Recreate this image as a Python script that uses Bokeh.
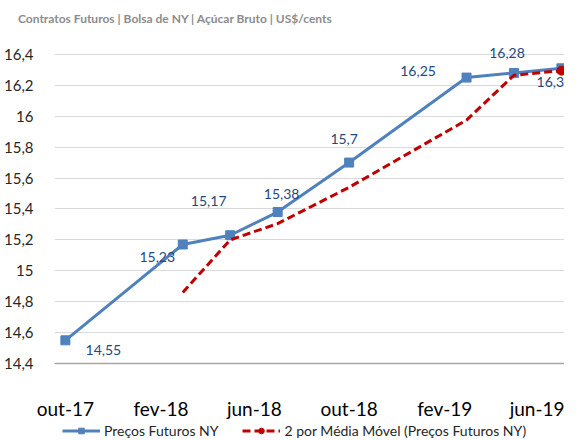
import pandas as pd
from bokeh.plotting import figure
from bokeh.layouts import column
from bokeh.models import (ColumnDataSource, Range1d, FixedTicker, CustomJSTickFormatter,
                          Legend, LegendItem, Div)
from bokeh.core.properties import value
from bokeh.embed import file_html
from bokeh.resources import INLINE

# ---------------- data ----------------
subtitle = "Contratos Futuros | Bolsa de NY | Açúcar Bruto | US$/cents"
series_name = "Preços Futuros NY"
ma_name = "2 por Média Móvel (Preços Futuros NY)"
dates = ["2017-10-01", "2018-03-01", "2018-05-01", "2018-07-01",
         "2018-10-01", "2019-03-01", "2019-05-01", "2019-07-01"]
prices = [14.55, 15.17, 15.23, 15.38, 15.70, 16.25, 16.28, 16.31]
price_labels = ["14,55", "15,23", "15,17", "15,38", "15,7", "16,25", "16,28", "16,31"]
ma_dates = ["2018-03-01", "2018-05-01", "2018-07-01", "2018-10-01",
            "2019-03-01", "2019-05-01", "2019-07-01"]
ma_values = [14.86, 15.20, 15.305, 15.54, 15.975, 16.265, 16.295]
tick_dates = ["2017-10-01", "2018-02-01", "2018-06-01", "2018-10-01", "2019-02-01", "2019-06-01"]
tick_labels = ["out-17", "fev-18", "jun-18", "out-18", "fev-19", "jun-19"]
y_ticks = [14.4, 14.6, 14.8, 15.0, 15.2, 15.4, 15.6, 15.8, 16.0, 16.2, 16.4]

# label offsets (layout only)
lab_dx = [38, -25.5, -21.5, 4, -5, -48.5, -7, -7]
lab_dy = [10, 13, -34, -18, -24, -7, -20, 14]

FONT = "Lato"
BLUE = "#4f81bd"
RED = "#c00000"
LABEL_C = "#1f497d"
W = 564

src = ColumnDataSource(dict(x=pd.to_datetime(dates), y=prices, lab=price_labels,
                            dx=lab_dx, dy=lab_dy))
ma_src = ColumnDataSource(dict(x=pd.to_datetime(ma_dates), y=ma_values))
last_src = ColumnDataSource(dict(x=pd.to_datetime(ma_dates[-1:]), y=ma_values[-1:]))

tick_ms = [int(pd.Timestamp(d).timestamp() * 1000) for d in tick_dates]

# ---------------- subtitle ----------------
t = Div(text=subtitle, width=W, height=28, margin=(0, 0, 0, 0),
        styles={"font-family": "Lato", "font-size": "12px", "font-weight": "bold",
                "color": "#8c8c8c", "padding-left": "18px", "padding-top": "12px",
                "line-height": "14px", "white-space": "nowrap", "box-sizing": "border-box"})

# ---------------- chart ----------------
p = figure(width=W, height=394, x_axis_type="datetime",
           x_range=Range1d(pd.Timestamp("2017-09-17"), pd.Timestamp("2019-07-05")),
           y_range=Range1d(14.4, 16.477),
           output_backend="svg", toolbar_location=None,
           min_border_left=47, min_border_right=0, min_border_top=14, min_border_bottom=56)
p.outline_line_color = None
p.background_fill_color = "white"
p.border_fill_color = "white"

p.xgrid.visible = False
p.ygrid.ticker = FixedTicker(ticks=y_ticks)
p.ygrid.grid_line_color = "#d9d9d9"
p.ygrid.grid_line_width = 1

p.yaxis.ticker = FixedTicker(ticks=y_ticks)
p.yaxis.formatter = CustomJSTickFormatter(
    code="let s = tick.toFixed(1); if (s.endsWith('.0')) s = s.slice(0, -2); return s.replace('.', ',');")
p.yaxis.axis_line_color = None
p.yaxis.major_tick_line_color = None
p.yaxis.minor_tick_line_color = None
p.yaxis.major_label_text_font = FONT
p.yaxis.major_label_text_font_size = "15px"
p.yaxis.major_label_text_color = "#262626"
p.yaxis.major_label_standoff = 15

p.xaxis.ticker = FixedTicker(ticks=tick_ms)
p.xaxis.formatter = CustomJSTickFormatter(
    args=dict(tms=tick_ms, labs=tick_labels),
    code="const i = tms.indexOf(tick); return i >= 0 ? labs[i] : '';")
p.xaxis.axis_line_color = "#a6a6a6"
p.xaxis.axis_line_width = 1.5
p.xaxis.major_tick_line_color = None
p.xaxis.minor_tick_line_color = None
p.xaxis.major_label_text_font = FONT
p.xaxis.major_label_text_font_size = "19px"
p.xaxis.major_label_text_color = "#000000"
p.xaxis.major_label_standoff = 27

p.line("x", "y", source=src, line_color=BLUE, line_width=3)
p.scatter("x", "y", source=src, marker="square", size=9, fill_color=BLUE, line_color=BLUE)
p.line("x", "y", source=ma_src, line_color=RED, line_width=3, line_dash="8 4")
p.scatter("x", "y", source=last_src, marker="circle", size=9, fill_color=RED, line_color=RED)

p.text("x", "y", text="lab", source=src, x_offset="dx", y_offset="dy",
       text_font=value(FONT), text_font_size="14px", text_color=LABEL_C,
       text_align="center", text_baseline="middle")

# ---------------- legend strip ----------------
q = figure(width=W, height=16, x_range=(0, 1), y_range=(0, 1),
           output_backend="svg", toolbar_location=None,
           x_axis_location=None, y_axis_location=None,
           min_border_left=47, min_border_right=0, min_border_top=0, min_border_bottom=0)
q.outline_line_color = None
q.grid.visible = False
lg1 = q.line([-5, -4], [-5, -4], line_color=BLUE, line_width=3)
sg1 = q.scatter([-5], [-5], marker="square", size=9, fill_color=BLUE, line_color=BLUE)
lg2 = q.line([-5, -4], [-5, -4], line_color=RED, line_width=3, line_dash="8 4")
sg2 = q.scatter([-5], [-5], marker="circle", size=9, fill_color=RED, line_color=RED)

legend = Legend(items=[LegendItem(label=series_name, renderers=[lg1, sg1]),
                       LegendItem(label=ma_name, renderers=[lg2, sg2])],
                orientation="horizontal", location="left",
                padding=0, margin=8, spacing=24, glyph_width=38, glyph_height=14,
                label_height=14, label_standoff=4, label_text_font=FONT,
                label_text_font_size="14px", label_text_color="#262626",
                border_line_color=None, background_fill_alpha=0)
q.add_layout(legend)

layout = column(t, p, q, spacing=0)
open("out.html", "w").write(file_html(layout, INLINE))
